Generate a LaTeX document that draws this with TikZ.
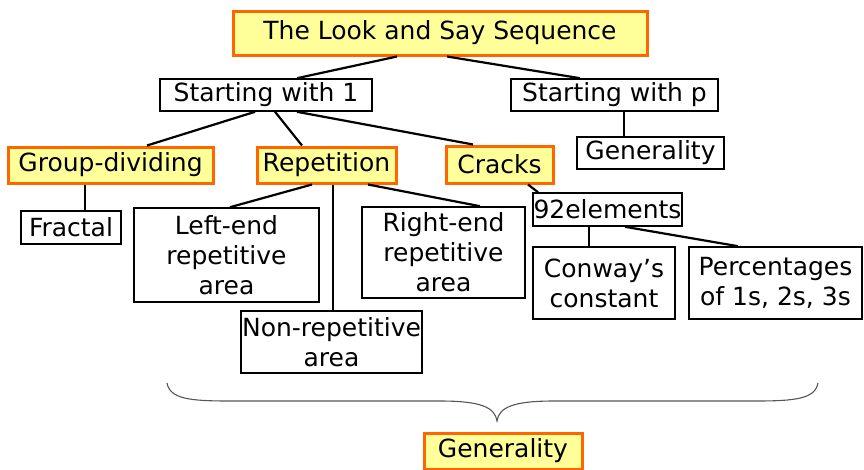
\documentclass[tikz,border=0pt]{standalone}
\usepackage{fontspec}
\setmainfont{DejaVu Sans}
\definecolor{hlfill}{HTML}{FFFF99}
\definecolor{hlline}{HTML}{FF6600}
\definecolor{bracegray}{HTML}{555555}
\begin{document}
\begin{tikzpicture}[x=1pt,y=-1pt,
  base/.style={inner sep=0pt, align=center, font=\fontsize{25}{30}\selectfont},
  plainbox/.style={base, draw=black, line width=1.6pt, fill=white},
  keybox/.style={base, draw=hlline, line width=3pt, fill=hlfill},
  link/.style={line width=2.2pt, black},
  wh/.style 2 args={minimum width=#1pt, minimum height=#2pt}]
\useasboundingbox (0,0) rectangle (864,469);

% nodes
\node[keybox, wh={414}{44}] (title) at (440,33) {The Look and Say Sequence};
\node[plainbox, wh={212}{32}] (s1) at (266,95) {Starting with 1};
\node[plainbox, wh={207}{32}] (sp) at (614.5,95) {Starting with p};
\node[keybox, wh={205}{36}] (grp) at (110.5,165) {Group-dividing};
\node[keybox, wh={139}{36}] (rep) at (326.5,165) {Repetition};
\node[keybox, wh={107}{37}] (cracks) at (499.5,164.5) {Cracks};
\node[plainbox, wh={147}{32}] (gentop) at (650.5,153) {Generality};
\node[plainbox, wh={100}{33}] (fractal) at (71,227.5) {Fractal};
\node[plainbox, wh={185}{94}] (leftend) at (226.5,255) {Left-end\\repetitive\\area};
\node[plainbox, wh={163}{91}] (rightend) at (443.5,252.5) {Right-end\\repetitive\\area};
\node[plainbox, wh={181}{62}] (nonrep) at (331.5,342) {Non-repetitive\\area};
\node[plainbox, wh={149}{33}] (elements) at (607.5,209.5) {92elements};
\node[plainbox, wh={142}{72}] (conway) at (604,283) {Conway’s\\constant};
\node[plainbox, wh={173}{72}] (pct) at (775.5,283) {Percentages\\of 1s, 2s, 3s};
\node[keybox, wh={158}{36}] (genbot) at (503,451) {Generality};

% connectors
\begin{scope}[on background layer/.try]
\draw[link] ([xshift=-43pt]title.south) -- ([xshift=31pt]s1.north);
\draw[link] ([xshift=7pt]title.south) -- ([xshift=-34.5pt]sp.north);
\draw[link] ([xshift=-11pt]s1.south) -- ([xshift=36.5pt]grp.north);
\draw[link] ([xshift=9pt]s1.south) -- ([xshift=-24.5pt]rep.north);
\draw[link] ([xshift=31pt]s1.south) -- ([xshift=-26.5pt]cracks.north);
\draw[link] ([xshift=9.5pt]sp.south) -- ([xshift=-26.5pt]gentop.north);
\draw[link] ([xshift=-25.5pt]grp.south) -- ([xshift=14pt]fractal.north);
\draw[link] ([xshift=-14.5pt]rep.south) -- ([xshift=3.5pt]leftend.north);
\draw[link] ([xshift=6.5pt]rep.south) -- ([xshift=1.5pt]nonrep.north);
\draw[link] ([xshift=41.5pt]rep.south) -- ([xshift=36.5pt]rightend.north);
\draw[link] ([xshift=28.5pt]cracks.south) -- ([xshift=-69.5pt]elements.north);
\draw[link] ([xshift=-18.5pt]elements.south) -- ([xshift=-15pt]conway.north);
\draw[link] ([xshift=17.5pt]elements.south) -- ([xshift=-37.5pt]pct.north);
\end{scope}

% brace over the lower row
\coordinate (braceL) at (167,383);
\coordinate (braceR) at (818,383);
\coordinate (braceTip) at (497,421);
\draw[bracegray, line width=1.1pt]
  (braceL) .. controls (170,399) and (190,401) .. (230,401) -- (440,401)
  .. controls (480,401) and (495,407) .. (braceTip)
  .. controls (499,407) and (514,401) .. (554,401) -- (755,401)
  .. controls (795,401) and (815,399) .. (braceR);
\end{tikzpicture}
\end{document}
